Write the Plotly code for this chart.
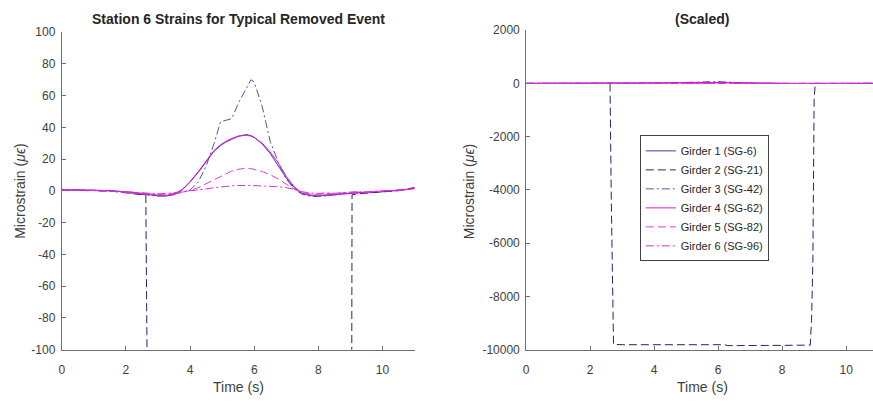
import plotly.graph_objects as go

# ---------------- data ----------------
TIME = [0.0, 0.25, 0.5, 0.75, 1.0, 1.25, 1.5, 1.75, 2.0, 2.25, 2.5, 2.75, 3.0, 3.25, 3.5,
        3.75, 4.0, 4.25, 4.5, 4.75, 4.95, 5.1, 5.3, 5.5, 5.75, 5.9, 6.0,
        6.25, 6.5, 6.75, 7.0, 7.25, 7.5, 7.75, 8.0, 8.25, 8.5, 8.75, 9.0, 9.25, 9.5,
        9.75, 10.0, 10.25, 10.5, 10.75, 11.0]

G1 = [0.8, 0.4, 0.6, 0.2, 0.4, 0.0, 0.3, -0.4, -0.7, -1.3, -2.0, -2.6, -3.1, -3.3, -2.4,
      0.5, 5.5, 11.5, 18.5, 25.0, 28.5, 30.5, 32.5, 34.3, 35.5, 34.8, 33.8,
      29.5, 23.5, 16.0, 8.0, 2.0, -1.8, -3.0, -3.2, -2.9, -2.4, -1.9, -1.6, -1.1, -1.3,
      -0.7, -0.5, -0.1, 0.3, 0.9, 1.9]

G3 = [0.5, 0.7, 0.3, 0.5, 0.1, 0.3, -0.2, -0.5, -1.0, -1.6, -2.2, -2.9, -3.4, -3.0, -2.0,
      -1.0, 0.5, 5.5, 15.5, 30.0, 43.5, 44.5, 45.5, 55.0, 65.0, 70.0, 68.5,
      53.0, 31.0, 18.0, 7.5, 1.0, -2.2, -3.4, -3.6, -3.0, -2.6, -2.0, -1.5, -1.4, -0.9,
      -1.0, -0.4, 0.0, 0.2, 1.0, 2.2]

G4 = [1.0, 0.6, 0.8, 0.4, 0.5, 0.2, 0.0, -0.2, -0.5, -1.0, -1.6, -2.2, -2.6, -2.8, -2.0,
      0.8, 5.8, 12.0, 19.0, 25.5, 29.0, 31.0, 33.0, 34.5, 35.0, 34.5, 33.5,
      30.0, 24.5, 17.5, 9.0, 2.5, -1.5, -2.6, -2.8, -2.5, -2.0, -1.6, -1.2, -1.0, -0.8,
      -0.5, -0.3, 0.1, 0.4, 0.8, 1.5]

G5 = [0.6, 0.8, 0.4, 0.6, 0.2, 0.4, -0.1, -0.3, -0.8, -1.2, -1.8, -2.0, -2.4, -2.2, -1.6,
      -0.8, 0.2, 2.0, 4.5, 7.5, 9.5, 11.0, 12.5, 13.6, 14.2, 14.0, 13.6,
      12.2, 10.2, 7.5, 4.2, 1.2, -1.0, -2.0, -2.2, -1.6, -1.9, -1.2, -1.0, -0.6, -0.9,
      -0.3, -0.4, 0.2, 0.3, 0.9, 1.3]

G6 = [0.9, 0.5, 0.7, 0.5, 0.3, 0.4, 0.1, -0.1, -0.4, -0.8, -1.2, -1.6, -1.8, -1.7, -1.2,
      -0.6, -0.2, 0.4, 1.2, 2.0, 2.6, 2.9, 3.2, 3.4, 3.6, 3.4, 3.3,
      3.2, 3.0, 2.6, 2.0, 1.0, -0.5, -1.4, -1.6, -1.3, -1.5, -1.0, -0.8, -0.5, -0.7,
      -0.2, -0.1, 0.3, 0.5, 1.1, 1.7]

TIME_G2 = [0.0, 0.25, 0.5, 0.75, 1.0, 1.25, 1.5, 1.75, 2.0, 2.25, 2.5,
           2.62, 2.66, 2.70, 2.73, 3.0, 3.5, 4.0, 4.5, 5.0, 5.5, 6.0, 6.2, 6.3, 6.5,
           7.0, 7.5, 8.0, 8.5, 8.88, 8.90, 8.92, 8.96, 9.0, 9.03, 9.05,
           9.25, 9.5, 9.75, 10.0, 10.25, 10.5, 10.75, 11.0]
G2 = [0.7, 0.3, 0.5, 0.1, 0.3, -0.1, 0.0, -0.6, -1.0, -1.8, -2.5,
      -3.0, -4400, -7800, -9800, -9815, -9815, -9810, -9812, -9815, -9812, -9810, -9815, -9850, -9845,
      -9845, -9842, -9840, -9838, -9830, -9300, -8900, -6700, -600, -80, -2.5,
      -1.8, -1.5, -1.0, -0.8, -0.3, 0.1, 0.8, 2.0]

NAMES = ["Girder 1 (SG-6)", "Girder 2 (SG-21)", "Girder 3 (SG-42)",
         "Girder 4 (SG-62)", "Girder 5 (SG-82)", "Girder 6 (SG-96)"]
X_TICKS = [0, 2, 4, 6, 8, 10]
X_TICK_LABELS = ["0", "2", "4", "6", "8", "10"]
Y_TICKS_LEFT = [-100, -80, -60, -40, -20, 0, 20, 40, 60, 80, 100]
Y_TICK_LABELS_LEFT = ["-100", "-80", "-60", "-40", "-20", "0", "20", "40", "60", "80", "100"]
Y_TICKS_RIGHT = [-10000, -8000, -6000, -4000, -2000, 0, 2000]
Y_TICK_LABELS_RIGHT = ["-10000", "-8000", "-6000", "-4000", "-2000", "0", "2000"]

TITLE_LEFT = "Station 6 Strains for Typical Removed Event"
TITLE_RIGHT = "(Scaled)"
X_LABEL = "Time (s)"
Y_LABEL = "Microstrain (<i>μϵ</i>)"

# ---------------- styles ----------------
series = [
    (TIME, G1, "#4a3a9c", "solid"),
    (TIME_G2, G2, "#24246a", "8px,4px"),
    (TIME, G3, "#55559a", "8px,3px,2px,3px"),
    (TIME, G4, "#e010e0", "solid"),
    (TIME, G5, "#e838e8", "8px,4px"),
    (TIME, G6, "#d030d0", "8px,3px,2px,3px"),
]

W, H = 873, 402
FONT = "Liberation Sans, Arial, Helvetica, sans-serif"
AX = "#707070"
TXT = "#404040"

fig = go.Figure()
for i, (t, v, c, d) in enumerate(series):
    for k, (xa, ya) in enumerate([("x", "y"), ("x2", "y2")]):
        fig.add_trace(go.Scatter(
            x=t, y=v, mode="lines", name=NAMES[i],
            line=dict(color=c, width=1, dash=d),
            xaxis=xa, yaxis=ya, showlegend=(k == 1),
            hoverinfo="skip"))

def px_x(p):
    return p / W

def px_y(p):
    return 1 - p / H

axis_common = dict(showgrid=False, zeroline=False, showline=True, linecolor=AX,
                   linewidth=1, ticks="inside", ticklen=4, tickcolor=AX,
                   tickfont=dict(family=FONT, size=12, color=TXT), mirror=False)

fig.update_layout(
    width=W, height=H,
    margin=dict(l=0, r=0, t=0, b=0),
    paper_bgcolor="white", plot_bgcolor="white",
    font=dict(family=FONT, color=TXT),
    xaxis=dict(domain=[px_x(59), px_x(413)], range=[0, 11], tickvals=X_TICKS,
               ticktext=X_TICK_LABELS, ticklabelstandoff=9, anchor="y", **axis_common),
    yaxis=dict(domain=[px_y(355), px_y(26)], range=[-100, 100], tickvals=Y_TICKS_LEFT,
               ticktext=Y_TICK_LABELS_LEFT, ticklabelstandoff=3, anchor="x", **axis_common),
    xaxis2=dict(domain=[px_x(525), 1.0], range=[0, 10.84], tickvals=X_TICKS,
                ticktext=X_TICK_LABELS, ticklabelstandoff=9, anchor="y2", **axis_common),
    yaxis2=dict(domain=[px_y(355), px_y(24)], range=[-10000, 2000], tickvals=Y_TICKS_RIGHT,
                ticktext=Y_TICK_LABELS_RIGHT, ticklabelstandoff=3, anchor="x2", **axis_common),
    legend=dict(x=px_x(639), y=px_y(133), xanchor="left", yanchor="top",
                bordercolor="#404040", borderwidth=1, bgcolor="white",
                font=dict(family=FONT, size=11, color="#262626"),
                tracegroupgap=0),
    showlegend=True,
)

annotations = [
    dict(text="<b>" + TITLE_LEFT + "</b>", x=px_x(236), y=px_y(12),
         font=dict(size=14, color="#262626")),
    dict(text="<b>" + TITLE_RIGHT + "</b>", x=px_x(701.5), y=px_y(12),
         font=dict(size=14, color="#262626")),
    dict(text=X_LABEL, x=px_x(236), y=px_y(394), font=dict(size=14, color=TXT)),
    dict(text=X_LABEL, x=px_x(701.5), y=px_y(394), font=dict(size=14, color=TXT)),
    dict(text=Y_LABEL, x=px_x(17), y=px_y(190.5), textangle=-90,
         font=dict(size=14, color=TXT)),
    dict(text=Y_LABEL, x=px_x(467), y=px_y(190.5), textangle=-90,
         font=dict(size=14, color=TXT)),
]
for a in annotations:
    a.update(xref="paper", yref="paper", showarrow=False,
             xanchor="center", yanchor="middle")
    a["font"]["family"] = FONT
fig.update_layout(annotations=annotations)

fig.write_html("out.html")
